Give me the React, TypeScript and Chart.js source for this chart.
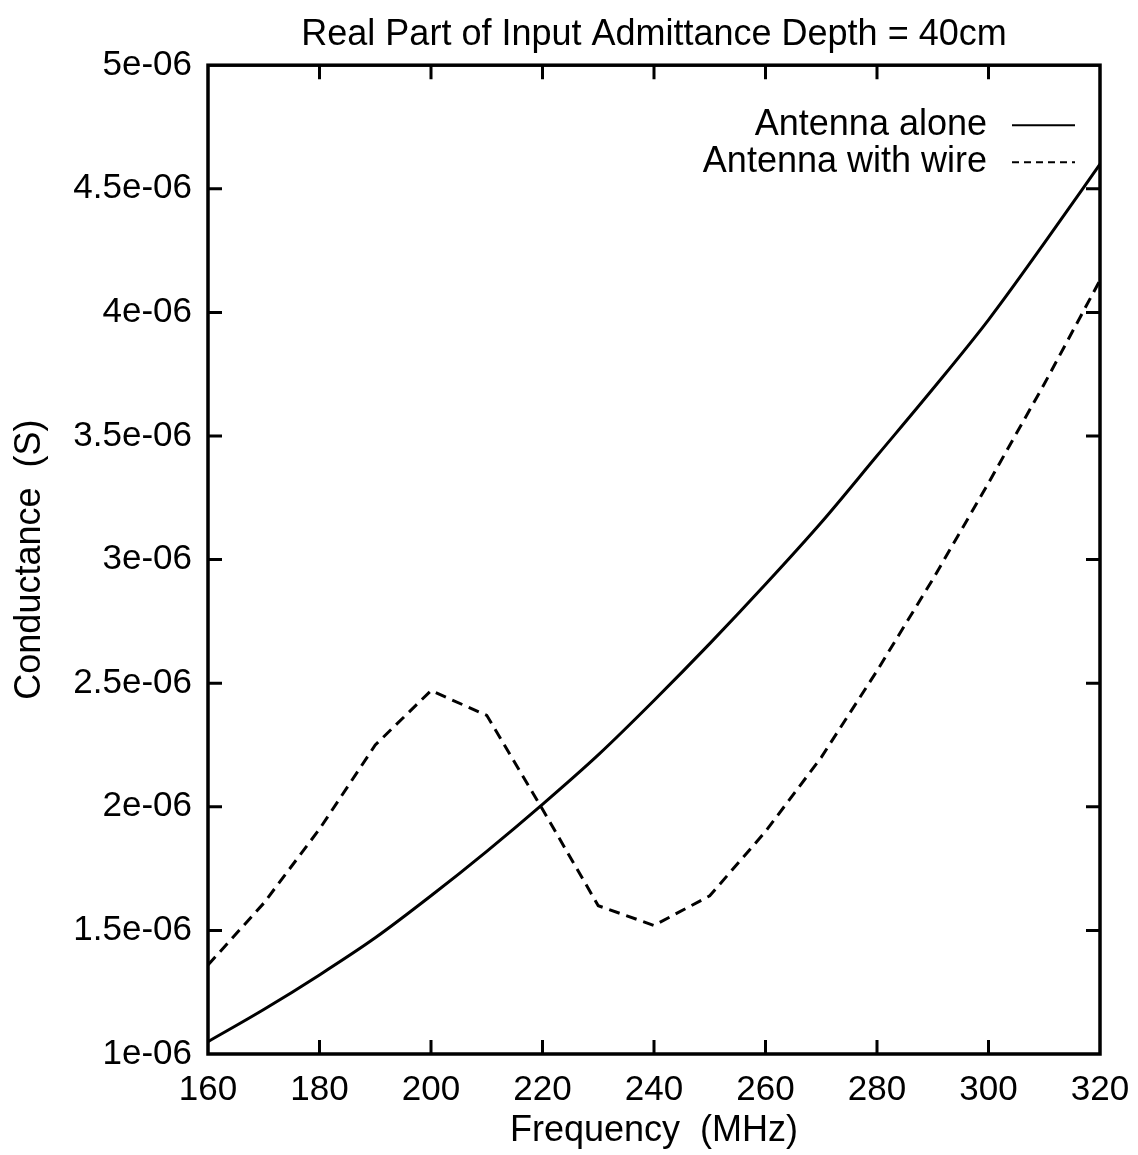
import { useEffect, useRef } from "react";
import { Chart, registerables } from "chart.js";

Chart.register(...registerables);

const TITLE = "Real Part of Input Admittance Depth = 40cm";
const X_LABEL = "Frequency  (MHz)";
const Y_LABEL = "Conductance  (S)";
const SERIES_NAMES = ["Antenna alone", "Antenna with wire"];

const FREQUENCIES = [160, 170, 180, 190, 200, 210, 220, 230, 240, 250, 260, 270, 280, 290, 300, 310, 320];
const ANTENNA_ALONE = [
  1.05e-6, 1.18e-6, 1.32e-6, 1.47e-6, 1.64e-6, 1.82e-6, 2.01e-6, 2.21e-6, 2.43e-6,
  2.66e-6, 2.9e-6, 3.15e-6, 3.42e-6, 3.69e-6, 3.97e-6, 4.28e-6, 4.6e-6,
];
const ANTENNA_WITH_WIRE = [
  1.36e-6, 1.61e-6, 1.91e-6, 2.25e-6, 2.47e-6, 2.37e-6, 1.99e-6, 1.6e-6, 1.52e-6,
  1.64e-6, 1.9e-6, 2.2e-6, 2.55e-6, 2.92e-6, 3.31e-6, 3.71e-6, 4.13e-6,
];

const X_TICKS = [160, 180, 200, 220, 240, 260, 280, 300, 320];
const Y_TICKS = [1e-6, 1.5e-6, 2e-6, 2.5e-6, 3e-6, 3.5e-6, 4e-6, 4.5e-6, 5e-6];

const FONT_FAMILY = "'Liberation Sans', Arial, Helvetica, sans-serif";
const CANVAS_W = 1122;
const CANVAS_H = 1147;

function formatY(v: number): string {
  const m = Math.round(v * 1e7) / 10;
  return `${m}e-06`;
}

const framePlugin = {
  id: "gnuplotFrame",
  afterDatasetsDraw(chart: any) {
    const { ctx, chartArea } = chart;
    const { left, right, top, bottom } = chartArea;
    const xs = chart.scales.x;
    const ys = chart.scales.y;
    ctx.save();
    ctx.strokeStyle = "#000";
    ctx.setLineDash([]);
    ctx.lineWidth = 3.5;
    ctx.strokeRect(left, top, right - left, bottom - top);

    const L = 14;
    ctx.lineWidth = 3;
    ctx.beginPath();
    for (const t of xs.ticks) {
      const px = xs.getPixelForValue(t.value);
      if (px <= left + 1 || px >= right - 1) continue;
      ctx.moveTo(px, bottom);
      ctx.lineTo(px, bottom - L);
      ctx.moveTo(px, top);
      ctx.lineTo(px, top + L);
    }
    for (const t of ys.ticks) {
      const py = ys.getPixelForValue(t.value);
      if (py <= top + 1 || py >= bottom - 1) continue;
      ctx.moveTo(left, py);
      ctx.lineTo(left + L, py);
      ctx.moveTo(right, py);
      ctx.lineTo(right - L, py);
    }
    ctx.stroke();

    // Legend (text right-aligned, sample line to the right)
    const textRight = right - 113;
    const sampleL = right - 88;
    const sampleR = right - 25;
    const rows = [top + 60, top + 97];
    ctx.font = `36px ${FONT_FAMILY}`;
    ctx.fillStyle = "#000";
    ctx.textAlign = "right";
    ctx.textBaseline = "middle";
    chart.data.datasets.forEach((ds: any, i: number) => {
      const yy = rows[i];
      ctx.fillText(ds.label, textRight, yy);
      ctx.beginPath();
      ctx.lineWidth = 2;
      ctx.setLineDash(ds.borderDash ? [7, 5] : []);
      ctx.moveTo(sampleL, yy);
      ctx.lineTo(sampleR, yy);
      ctx.stroke();
    });
    ctx.restore();
  },
};

export default function App() {
  const ref = useRef<HTMLCanvasElement | null>(null);

  useEffect(() => {
    if (!ref.current) return;
    const alone = FREQUENCIES.map((f, i) => ({ x: f, y: ANTENNA_ALONE[i] }));
    const wire = FREQUENCIES.map((f, i) => ({ x: f, y: ANTENNA_WITH_WIRE[i] }));

    const chart = new Chart(ref.current, {
      type: "line",
      data: {
        datasets: [
          {
            label: SERIES_NAMES[0],
            data: alone,
            borderColor: "#000",
            borderWidth: 3,
            pointRadius: 0,
            fill: false,
            cubicInterpolationMode: "monotone",
          },
          {
            label: SERIES_NAMES[1],
            data: wire,
            borderColor: "#000",
            borderWidth: 3,
            borderDash: [11, 7],
            pointRadius: 0,
            fill: false,
            tension: 0,
          },
        ],
      },
      options: {
        responsive: false,
        animation: false,
        layout: { padding: { left: 0, right: 30, top: 0, bottom: 0 } },
        plugins: {
          legend: { display: false },
          tooltip: { enabled: false },
          title: {
            display: true,
            text: TITLE,
            fullSize: false,
            color: "#000",
            font: { family: FONT_FAMILY, size: 36, weight: "normal" },
            padding: { top: 5, bottom: 9 },
          },
        },
        scales: {
          x: {
            type: "linear",
            min: 160,
            max: 320,
            afterBuildTicks: (scale: any) => {
              scale.ticks = X_TICKS.map((v) => ({ value: v }));
            },
            afterFit: (scale: any) => {
              scale.height = 101;
              scale.paddingLeft = 0;
              scale.paddingRight = 0;
            },
            grid: { display: false, drawTicks: false },
            border: { display: false },
            ticks: {
              color: "#000",
              padding: 15,
              maxRotation: 0,
              autoSkip: false,
              font: { family: FONT_FAMILY, size: 35 },
              callback: (v: any) => String(v),
            },
            title: {
              display: true,
              text: X_LABEL,
              color: "#000",
              font: { family: FONT_FAMILY, size: 36 },
              padding: { top: 0, bottom: 2 },
            },
          },
          y: {
            type: "linear",
            min: 1e-6,
            max: 5e-6,
            afterBuildTicks: (scale: any) => {
              scale.ticks = Y_TICKS.map((v) => ({ value: v }));
            },
            afterFit: (scale: any) => {
              scale.width = 200;
              scale.paddingTop = 0;
              scale.paddingBottom = 0;
            },
            grid: { display: false, drawTicks: false },
            border: { display: false },
            ticks: {
              color: "#000",
              padding: 16,
              autoSkip: false,
              font: { family: FONT_FAMILY, size: 35 },
              callback: (v: any) => formatY(Number(v)),
            },
            title: {
              display: true,
              text: Y_LABEL,
              color: "#000",
              font: { family: FONT_FAMILY, size: 36 },
              padding: { top: 0, bottom: 0 },
            },
          },
        },
      } as any,
      plugins: [framePlugin],
    });
    return () => chart.destroy();
  }, []);

  return (
    <canvas
      ref={ref}
      width={CANVAS_W}
      height={CANVAS_H}
      style={{ display: "block", width: CANVAS_W, height: CANVAS_H }}
    />
  );
}
